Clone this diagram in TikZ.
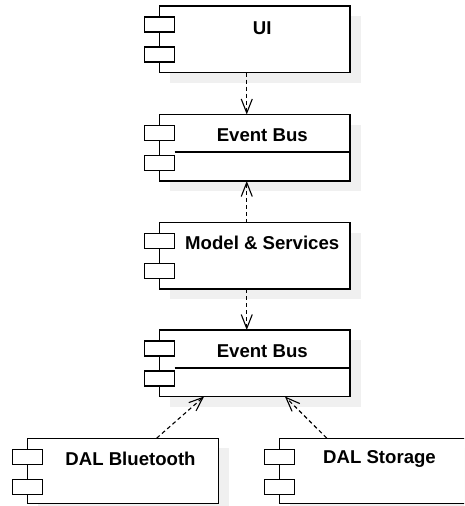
\documentclass[tikz,border=0pt]{standalone}
\usepackage{fontspec}
\setmainfont{Liberation Sans}
\usetikzlibrary{arrows.meta,shadows,calc}
\definecolor{shadowgray}{RGB}{240,240,240}
\tikzset{
  comp/.style={draw=black, line width=1.2pt, fill=white, rectangle,
    minimum width=190.5pt, minimum height=66.5pt, inner sep=0pt, outer sep=0pt,
    general shadow={fill=shadowgray, shadow xshift=10.5pt, shadow yshift=-10pt}},
  dalcomp/.style={comp, minimum height=65.5pt},
  title/.style={font=\bfseries\fontsize{18.6}{20}\selectfont, inner sep=0pt},
  port/.style={draw=black, line width=1.2pt, fill=white},
  divider/.style={draw=black, line width=1.2pt},
  dep/.style={line width=1.1pt, dash pattern=on 4pt off 3pt,
    -{Straight Barb[length=14pt, width=11pt, line width=1.1pt]}}
}
% the two little port rectangles on the left edge of a component
\newcommand\compports[1]{%
  \draw[port] ([shift={(-15,11)}]#1.north west) rectangle ++(30,15);
  \draw[port] ([shift={(-15,41)}]#1.north west) rectangle ++(30,15);
}
\begin{document}
\begin{tikzpicture}[x=1pt, y=-1pt]
  \useasboundingbox (0,0) rectangle (464,506);
  \clip (0,0) rectangle (464,506);

  % components
  \node[comp] (ui) at (254.75,39.25) {};
  \node[comp] (bus1) at (254.75,147.75) {};
  \node[comp] (model) at (254.75,255.75) {};
  \node[comp] (bus2) at (254.75,363.25) {};
  \node[dalcomp] (dalb) at (123,470.9) {};
  \node[dalcomp] (dals) at (374.5,470.9) {};

  \foreach \c in {ui,bus1,model,bus2,dalb,dals} {\compports{\c}}

  % compartment lines of the buses
  \draw[divider] ([shift={(15,37.5)}]bus1.north west) -- ([yshift=-37.5pt]bus1.north east);
  \draw[divider] ([shift={(15,38)}]bus2.north west) -- ([yshift=-38pt]bus2.north east);

  % names
  \node[title] (tui) at ([shift={(7.5,22)}]ui.north) {UI};
  \node[title] (tbus1) at ([shift={(7.5,21)}]bus1.north) {Event Bus};
  \node[title] (tmodel) at ([shift={(7.5,20)}]model.north) {Model \& Services};
  \node[title] (tbus2) at ([shift={(7.5,21)}]bus2.north) {Event Bus};
  \node[title] (tdalb) at ([shift={(7.5,21)}]dalb.north) {DAL Bluetooth};
  \node[title] (tdals) at ([shift={(5,21)}]dals.north) {DAL Storage};

  % dependencies
  \draw[dep] ([xshift=-8pt]ui.south) -- ([xshift=-8pt]bus1.north);
  \draw[dep] ([xshift=-8pt]model.north) -- ([xshift=-8pt]bus1.south);
  \draw[dep] ([xshift=-8pt]model.south) -- ([xshift=-8pt]bus2.north);
  \draw[dep] ([xshift=33.7pt]dalb.north) -- ([xshift=-50.7pt]bus2.south);
  \draw[dep] ([xshift=-47.8pt]dals.north) -- ([xshift=30.2pt]bus2.south);
\end{tikzpicture}
\end{document}
